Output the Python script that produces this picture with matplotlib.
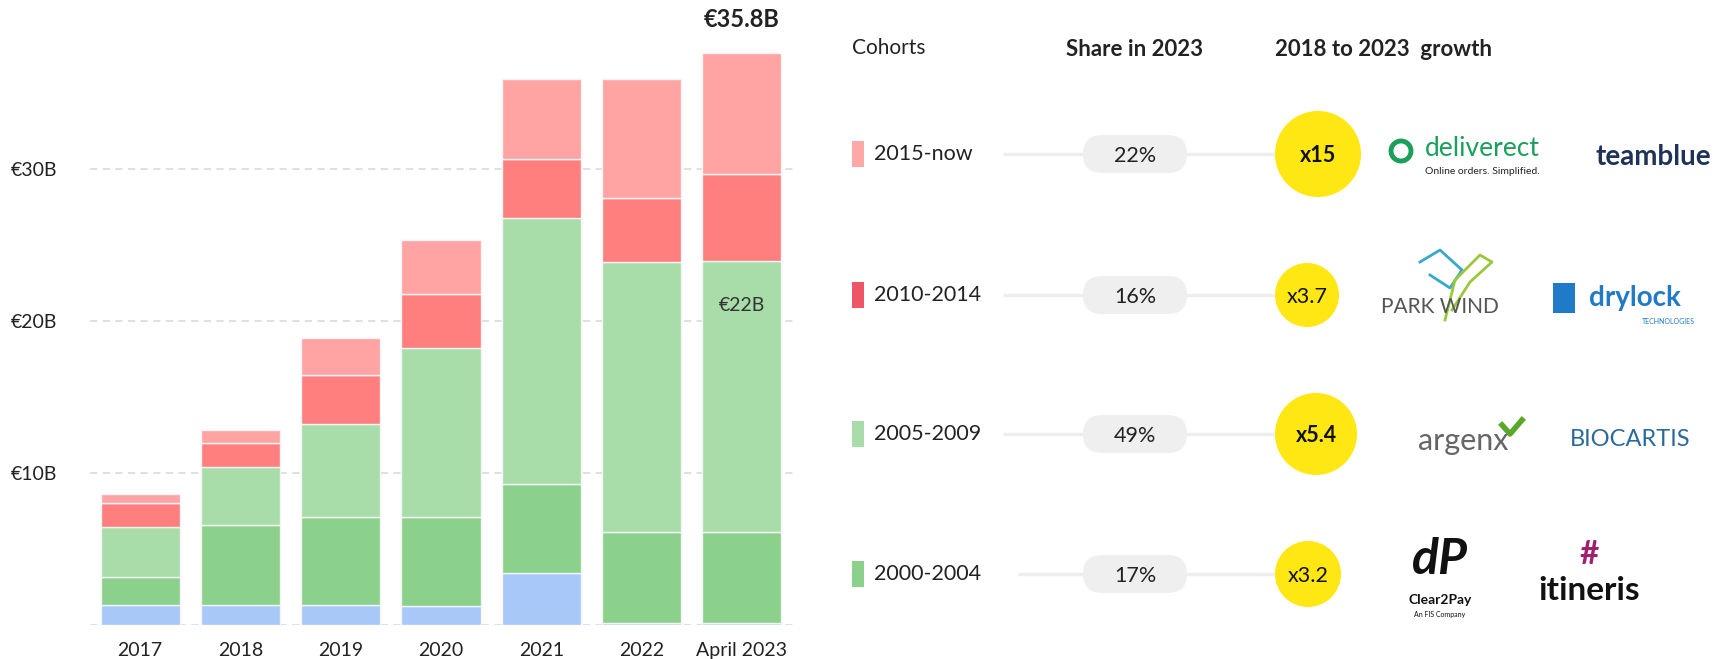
import matplotlib.pyplot as plt
from matplotlib.patches import Circle, FancyBboxPatch, Rectangle
import numpy as np

plt.rcParams['font.family'] = ['Lato', 'DejaVu Sans']

# data
years = ['2017', '2018', '2019', '2020', '2021', '2022', 'April 2023']
pre_2000 = [1.3, 1.3, 1.3, 1.25, 3.4, 0.15, 0.15]
c2000_2004 = [1.85, 5.3, 5.8, 5.85, 5.85, 6.0, 6.0]
c2005_2009 = [3.3, 3.8, 6.1, 11.1, 17.5, 17.7, 17.8]
c2010_2014 = [1.6, 1.55, 3.25, 3.6, 3.9, 4.25, 5.7]
c2015_now = [0.55, 0.85, 2.45, 3.5, 5.3, 7.85, 8.0]
yticks = [0, 10, 20, 30]
ytick_labels = ['', '€10B', '€20B', '€30B']
total_label = '€35.8B'
inner_label = '€22B'

cohorts = ['2015-now', '2010-2014', '2005-2009', '2000-2004']
shares = ['22%', '16%', '49%', '17%']
growth = ['x15', 'x3.7', 'x5.4', 'x3.2']
growth_bold = [True, False, True, False]
growth_radius = [43, 32, 41, 33]

c_blue = '#a9c8fa'
c_dg = '#8bd18b'
c_lg = '#a8dca8'
c_red = '#ff7f7f'
c_pink = '#ffa3a3'
swatch_cols = ['#ffa8a8', '#ee5566', '#a8dca8', '#8bd18b']

W, H = 1723, 659
fig = plt.figure(figsize=(W / 100, H / 100), dpi=100, facecolor='white')

# bar chart
ax = fig.add_axes([90 / W, (H - 625) / H, (795 - 90) / W, 608 / H])
x = np.arange(len(years))
bottom = np.zeros(len(years))
for vals, col in [(pre_2000, c_blue), (c2000_2004, c_dg), (c2005_2009, c_lg),
                  (c2010_2014, c_red), (c2015_now, c_pink)]:
    ax.bar(x, vals, bottom=bottom, width=0.79, color=col,
           edgecolor='#f4f4f4', linewidth=1.0, zorder=3)
    bottom += np.array(vals)

ax.set_xlim(-0.5, 6.53)
ax.set_ylim(0, 40)
ax.set_yticks(yticks)
ax.set_yticklabels(ytick_labels, fontsize=14, ha='left', color='#222222')
ax.tick_params(axis='y', length=0, pad=57)
ax.set_xticks(x)
ax.set_xticklabels(years, fontsize=14, color='#222222')
ax.tick_params(axis='x', length=0, pad=12)
for v in yticks:
    ax.axhline(v, color='#dddddd', lw=1.3, ls=(0, (4, 3)), zorder=1)
for s in ax.spines.values():
    s.set_visible(False)

ax.text(x[-1], bottom[-1] + 1.4, total_label, ha='center', va='bottom',
        fontsize=17, fontweight='bold', color='#222222')
ax.text(x[-1], 21.0, inner_label, ha='center', va='center',
        fontsize=14, color='#333333', zorder=4)

# right panel, drawn in pixel coordinates
ov = fig.add_axes([0, 0, 1, 1], facecolor='none')
ov.set_xlim(0, W)
ov.set_ylim(H, 0)
ov.axis('off')

ov.text(852, 48, 'Cohorts', fontsize=15, va='center', ha='left', color='#222222')
ov.text(1135, 49, 'Share in 2023', fontsize=16, fontweight='bold',
        va='center', ha='center', color='#222222')
ov.text(1275, 49, '2018 to 2023  growth', fontsize=16, fontweight='bold',
        va='center', ha='left', color='#222222')

rows_y = [154, 295, 434, 574]
for i, ry in enumerate(rows_y):
    ov.add_patch(Rectangle((852, ry - 13), 12, 26, color=swatch_cols[i], lw=0))
    ov.text(874, ry, cohorts[i], fontsize=15.5, va='center', ha='left', color='#222222')
    x0 = 1003 if i < 3 else 1018
    ov.plot([x0, 1290], [ry, ry], color='#eeeeee', lw=2.5, zorder=1,
            solid_capstyle='butt')
    ov.add_patch(FancyBboxPatch((1083, ry - 19), 104, 38,
                                boxstyle='round,pad=0,rounding_size=19',
                                fc='#efefef', ec='none', zorder=2))
    ov.text(1135, ry + 2, shares[i], fontsize=15.5, va='center', ha='center',
            color='#222222', zorder=3)
    r = growth_radius[i]
    cx = 1275 + r
    ov.add_patch(Circle((cx, ry), r, fc='#ffe714', ec='none', zorder=2))
    ov.text(cx, ry + 2, growth[i], fontsize=15.5, va='center', ha='center',
            fontweight='bold' if growth_bold[i] else 'normal',
            color='#111111', zorder=3)

# company logos (as text)
ov.add_patch(Circle((1401, 151), 10, fc='none', ec='#1aa05a', lw=3.5))
ov.text(1482, 148, 'deliverect', fontsize=19, color='#1aa05a', ha='center', va='center')
ov.text(1482, 172, 'Online orders. Simplified.', fontsize=7.5, color='#222222',
        ha='center', va='center')
ov.text(1653, 157, 'teamblue', fontsize=20, fontweight='bold', color='#1f3358',
        ha='center', va='center')
ov.text(1440, 307, 'PARK WIND', fontsize=15, color='#555555', ha='center', va='center')
ov.plot([1420, 1440, 1462, 1450, 1430], [262, 250, 270, 288, 275],
        color='#3aa8c8', lw=2)
ov.plot([1445, 1455, 1480, 1492, 1470, 1452], [320, 280, 255, 262, 282, 310],
        color='#9ac83a', lw=2)
ov.add_patch(Rectangle((1553, 283), 22, 30, fc='#1f7ac8', ec='none'))
ov.text(1635, 298, 'drylock', fontsize=20, fontweight='bold', color='#1f7ac8',
        ha='center', va='center')
ov.text(1668, 322, 'TECHNOLOGIES', fontsize=5, color='#1f7ac8', ha='center', va='center')
ov.text(1463, 441, 'argenx', fontsize=22, color='#666666', ha='center', va='center')
ov.plot([1502, 1510, 1522], [425, 434, 420], color='#5aa82a', lw=4)
ov.text(1630, 440, 'BIOCARTIS', fontsize=17, color='#2a6a9a', ha='center', va='center')
ov.text(1440, 560, 'dP', fontsize=36, fontweight='bold', color='#111111',
        ha='center', va='center', style='italic')
ov.text(1440, 600, 'Clear2Pay', fontsize=10, fontweight='bold', color='#111111',
        ha='center', va='center')
ov.text(1440, 614, 'An FIS Company', fontsize=5, color='#111111', ha='center', va='center')
ov.text(1589, 590, 'itineris', fontsize=24, fontweight='bold', color='#111111',
        ha='center', va='center')
ov.text(1589, 555, '#', fontsize=24, fontweight='bold', color='#a0206e',
        ha='center', va='center')

fig.savefig('out.png', dpi=100, facecolor='white')
